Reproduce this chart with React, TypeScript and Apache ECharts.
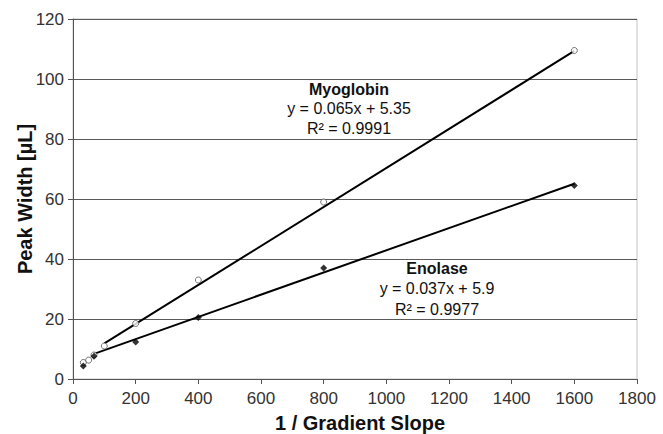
import React, { useEffect, useRef } from "react";
import * as echarts from "echarts";

const xTicks = [0, 200, 400, 600, 800, 1000, 1200, 1400, 1600, 1800];
const yTicks = [0, 20, 40, 60, 80, 100, 120];

const myoX = [33, 50, 67, 100, 200, 400, 800, 1600];
const myoY = [5.5, 6.3, 8, 11, 18.5, 33, 59, 109.5];

const enoX = [33, 67, 200, 400, 800, 1600];
const enoY = [4.3, 7.6, 12.3, 20.5, 37, 64.5];

const myoTrendX = [100, 1600];
const myoTrendY = [11.85, 109.35];
const enoTrendX = [67, 1600];
const enoTrendY = [8.38, 65.1];

const myoLabel = ["Myoglobin", "y = 0.065x + 5.35", "R² = 0.9991"];
const enoLabel = ["Enolase", "y = 0.037x + 5.9", "R² = 0.9977"];

const FONT = "'Liberation Sans', Arial, sans-serif";

function zip(xs: number[], ys: number[]) {
  return xs.map((x, i) => [x, ys[i]]);
}

function block(lines: string[], cx: number, ys: number[]) {
  return lines.map((t, i) => ({
    type: "text",
    x: cx,
    y: ys[i],
    style: {
      text: t,
      fill: "#111",
      font: `${i === 0 ? "bold " : ""}16px ${FONT}`,
      textAlign: "center",
      textVerticalAlign: "middle",
    },
  }));
}

export default function App() {
  const ref = useRef<HTMLDivElement>(null);
  useEffect(() => {
    if (!ref.current) return;
    const chart = echarts.init(ref.current, null, { renderer: "svg" });
    chart.setOption({
      animation: false,
      backgroundColor: "#fff",
      grid: {
        left: 73,
        right: 26,
        top: 19,
        bottom: 55,
        containLabel: false,
        outerBoundsMode: "none",
        show: true,
        borderColor: "#c4c4c4",
        borderWidth: 1,
        backgroundColor: "transparent",
      },
      xAxis: {
        type: "value",
        min: xTicks[0],
        max: xTicks[xTicks.length - 1],
        interval: 200,
        name: "1 / Gradient Slope",
        nameLocation: "middle",
        nameGap: 34,
        nameMoveOverlap: false,
        nameTextStyle: { fontFamily: FONT, fontWeight: "bold", fontSize: 20, color: "#111", padding: [0, 0, 0, 10] },
        axisLine: { show: true, onZero: false, lineStyle: { color: "#555", width: 1 } },
        axisTick: { show: true, length: 5, lineStyle: { color: "#555" } },
        axisLabel: { fontFamily: FONT, fontSize: 17, color: "#333", margin: 11, formatter: (v: number) => String(v) },
        splitLine: { show: false },
      },
      yAxis: {
        type: "value",
        min: yTicks[0],
        max: yTicks[yTicks.length - 1],
        interval: 20,
        name: "Peak Width [µL]",
        nameLocation: "middle",
        nameGap: 38,
        nameMoveOverlap: false,
        nameTextStyle: { fontFamily: FONT, fontWeight: "bold", fontSize: 20, color: "#111" },
        axisLine: { show: true, lineStyle: { color: "#555", width: 1 } },
        axisTick: { show: true, length: 5, lineStyle: { color: "#555" } },
        axisLabel: { fontFamily: FONT, fontSize: 17, color: "#333", margin: 9, formatter: (v: number) => String(v) },
        splitLine: { show: true, lineStyle: { color: "#5a5a5a", width: 1 } },
      },
      series: [
        {
          type: "line",
          data: zip(myoTrendX, myoTrendY),
          symbol: "none",
          lineStyle: { color: "#000", width: 2 },
          z: 2,
        },
        {
          type: "line",
          data: zip(enoTrendX, enoTrendY),
          symbol: "none",
          lineStyle: { color: "#000", width: 2 },
          z: 2,
        },
        {
          type: "scatter",
          data: zip(myoX, myoY),
          symbol: "circle",
          symbolSize: 6,
          itemStyle: { color: "#fff", borderColor: "#555", borderWidth: 1 },
          z: 3,
        },
        {
          type: "scatter",
          data: zip(enoX, enoY),
          symbol: "diamond",
          symbolSize: 7,
          itemStyle: { color: "#000" },
          z: 3,
        },
      ],
      graphic: [
        ...block(myoLabel, 349, [89, 108.5, 128]),
        ...block(enoLabel, 437, [268, 288.5, 309]),
      ],
    });
    return () => chart.dispose();
  }, []);
  return (
    <div
      ref={ref}
      style={{ position: "fixed", left: 0, top: 0, width: 663, height: 434 }}
    />
  );
}
